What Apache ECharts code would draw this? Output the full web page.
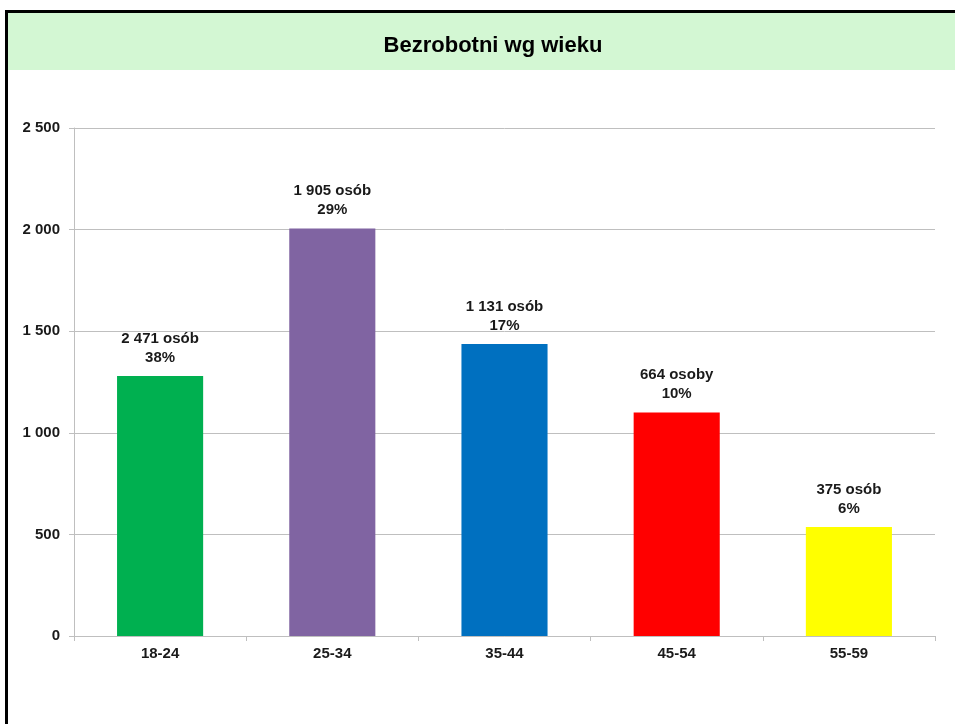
<!DOCTYPE html>
<html>
<head>
<meta charset="utf-8">
<script src="https://cdn.jsdelivr.net/npm/echarts@6/dist/echarts.min.js"></script>
<style>
  html, body { margin: 0; padding: 0; background: #fff; }
  #chart { width: 955px; height: 724px; }
</style>
</head>
<body>
<div id="chart"></div>
<script>
// dane
const categories = ['18-24', '25-34', '35-44', '45-54', '55-59']
const barValues = [1280, 2005, 1437, 1100, 536]
const labelCounts = ['2 471 osób', '1 905 osób', '1 131 osób', '664 osoby', '375 osób']
const labelShares = ['38%', '29%', '17%', '10%', '6%']
const barColors = ['#00b050', '#8064a2', '#0070c0', '#ff0000', '#ffff00']

const chart = echarts.init(document.getElementById('chart'))

// format liczb ze spacją jako separatorem tysięcy
const fmt = (v) => String(v).replace(/\B(?=(\d{3})+(?!\d))/g, ' ')

const option = {
  animation: false,
  textStyle: { fontFamily: 'Liberation Sans, Arial, sans-serif' },
  graphic: [
    {
      type: 'rect',
      shape: { x: 8, y: 13, width: 960, height: 57 },
      style: { fill: '#d3f7d3' },
      z: 0,
    },
    {
      type: 'polyline',
      shape: { points: [[6.5, 740], [6.5, 11.5], [960, 11.5]] },
      style: { stroke: '#000', lineWidth: 3, fill: null },
      z: 1,
    },
  ],
  title: {
    text: 'Bezrobotni wg wieku',
    left: 488,
    top: 30,
    textAlign: 'center',
    textStyle: { fontSize: 22, fontWeight: 'bold', color: '#000' },
  },
  grid: { left: 74, right: 20, top: 128, bottom: 88, containLabel: false },
  xAxis: {
    type: 'category',
    data: categories,
    axisLine: { lineStyle: { color: '#bfbfbf' } },
    axisTick: { show: true, length: 5, alignWithLabel: false, lineStyle: { color: '#bfbfbf' } },
    axisLabel: { fontSize: 15, fontWeight: 'bold', color: '#1a1a1a', margin: 10 },
  },
  yAxis: {
    type: 'value',
    min: 0,
    max: 2500,
    interval: 500,
    axisLine: { show: true, lineStyle: { color: '#bfbfbf' } },
    axisTick: { show: true, length: 5, lineStyle: { color: '#bfbfbf' } },
    splitLine: { lineStyle: { color: '#bfbfbf' } },
    axisLabel: {
      fontSize: 15,
      fontWeight: 'bold',
      color: '#1a1a1a',
      margin: 14,
      formatter: fmt,
    },
  },
  series: [
    {
      type: 'bar',
      barWidth: '50%',
      data: barValues.map((v, i) => ({
        value: v,
        itemStyle: { color: barColors[i] },
      })),
      label: {
        show: true,
        position: 'top',
        distance: 9,
        fontSize: 15,
        fontWeight: 'bold',
        color: '#1a1a1a',
        lineHeight: 19,
        formatter: (p) => labelCounts[p.dataIndex] + '\n' + labelShares[p.dataIndex],
      },
    },
  ],
}

chart.setOption(option)
</script>
</body>
</html>
